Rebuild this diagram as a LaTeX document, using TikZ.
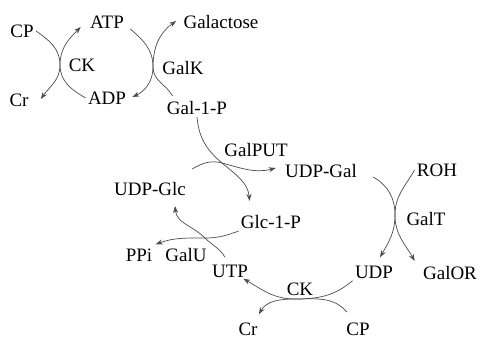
\documentclass[tikz,border=0pt]{standalone}
\usepackage{fontspec}
\setmainfont{Liberation Serif}
\usetikzlibrary{arrows.meta,calc}
\tikzset{
  met/.style={inner sep=1.5pt, font=\fontsize{13.5}{16}\selectfont},
  rxn/.style={draw=black!70, line width=0.5pt, -{Stealth[length=5pt,width=3.6pt]}},
}

\begin{document}
\begin{tikzpicture}[x=0.25mm,y=0.25mm]
  \useasboundingbox (0,0) rectangle (480,339);

  % metabolites
  \node[met] (CPa) at (22,308) {CP};
  \node[met] (Cra) at (19,239) {Cr};
  \node[met] (ATP) at (107,317) {ATP};
  \node[met] (ADP) at (107,241) {ADP};
  \node[met] (Galactose) at (221,317) {Galactose};
  \node[met] (Gal1P) at (197,231) {Gal-1-P};
  \node[met] (UDPGal) at (321,168) {UDP-Gal};
  \node[met] (ROH) at (437,169) {ROH};
  \node[met] (UDPGlc) at (150,150) {UDP-Glc};
  \node[met] (Glc1P) at (271,117) {Glc-1-P};
  \node[met] (PPi) at (139,84) {PPi};
  \node[met] (UTP) at (230,68) {UTP};
  \node[met] (UDP) at (374,67) {UDP};
  \node[met] (GalOR) at (450,66) {GalOR};
  \node[met] (Crb) at (248,10) {Cr};
  \node[met] (CPb) at (358,10) {CP};

  % enzymes
  \node[met] (CKa) at (82,274) {CK};
  \node[met] (GalK) at (183,271) {GalK};
  \node[met] (GalPUT) at (256,189) {GalPUT};
  \node[met] (GalU) at (186,84) {GalU};
  \node[met] (GalT) at (426,120) {GalT};
  \node[met] (CKb) at (300,50) {CK};

  % where the arcs meet
  \coordinate (ckT) at (60,274);
  \coordinate (galkT) at (153,272);
  \coordinate (putX) at (222,176);
  \coordinate (guX) at (205,101);
  \coordinate (galtT) at (395,124);
  \coordinate (ckbT) at (295,40);

  % reactions
  \draw[rxn] (CPa.east) to[out=-35,in=90] (ckT) to[out=-90,in=55] ($(Cra.east)+(10,1)$);
  \draw[rxn] (ADP.west) to[out=150,in=-90] (ckT) to[out=90,in=225] ($(ATP.west)+(-7,-5)$);
  \draw[rxn] ($(ATP.east)+(4,-7)$) to[out=-40,in=90] (galkT) to[out=-90,in=25] ($(ADP.east)+(4,1)$);
  \draw[rxn] ($(Gal1P.north west)+(8,3)$) to[out=120,in=-90] (galkT) to[out=90,in=215] ($(Galactose.west)+(-5,1)$);

  \draw[rxn] (Gal1P.south) to[out=-85,in=140] (putX) to[out=-40,in=95] ($(Glc1P.north west)+(11,12)$);
  \draw[rxn] ($(UDPGlc.north east)+(4,11)$) to[out=30,in=165] (putX) to[out=-15,in=195] ($(UDPGal.west)+(-7,3)$);

  \draw[rxn] (Glc1P.south west) to[out=200,in=0] (guX) to[out=180,in=20] ($(PPi.north east)+(1,2)$);
  \draw[rxn] ($(UTP.north)+(-5,5)$) to[out=120,in=-45] (guX) to[out=135,in=-85] ($(UDPGlc.south)+(25,-8)$);

  \draw[rxn] ($(UDPGal.east)+(14,-6)$) to[out=-30,in=90] (galtT) to[out=-90,in=60] ($(UDP.north)+(6,6)$);
  \draw[rxn] (ROH.west) to[out=240,in=90] (galtT) to[out=-90,in=120] ($(GalOR.north west)+(-6,3)$);

  \draw[rxn] (UDP.south west) to[out=220,in=0] (ckbT) to[out=180,in=-30] ($(UTP.south east)+(-7,1)$);
  \draw[rxn] ($(CPb.north west)+(3,8)$) to[out=130,in=0] (ckbT) to[out=180,in=60] ($(Crb.north east)+(-1,6)$);
\end{tikzpicture}
\end{document}
